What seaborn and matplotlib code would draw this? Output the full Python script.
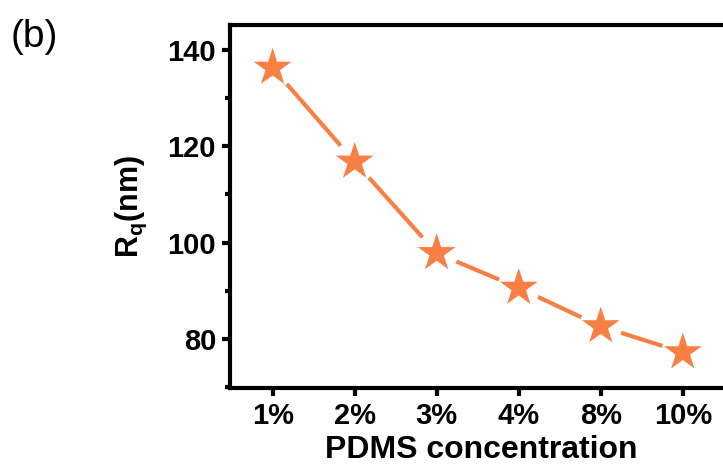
import matplotlib
matplotlib.use("Agg")
import matplotlib.pyplot as plt
import seaborn as sns
import pandas as pd
from matplotlib.ticker import MultipleLocator

categories = ["1%", "2%", "3%", "4%", "8%", "10%"]
rq_values = [136.3, 116.8, 97.8, 90.6, 82.6, 77.2]

df = pd.DataFrame({"conc": categories, "rq": rq_values})

sns.set_style("ticks")
plt.rcParams["font.family"] = ["Liberation Sans", "DejaVu Sans"]
plt.rcParams["mathtext.fontset"] = "custom"
plt.rcParams["mathtext.rm"] = "Liberation Sans"
plt.rcParams["mathtext.bf"] = "Liberation Sans:bold"
plt.rcParams["mathtext.it"] = "Liberation Sans:italic"
plt.rcParams["text.color"] = "black"
plt.rcParams["axes.labelcolor"] = "black"
plt.rcParams["xtick.color"] = "black"
plt.rcParams["ytick.color"] = "black"

color = "#F97F42"
fig = plt.figure(figsize=(7.23, 4.70), dpi=100)
ax = fig.add_axes([230 / 723, 82 / 470, 502 / 723, 363 / 470])

sns.lineplot(data=df, x="conc", y="rq", ax=ax, sort=False, color=color,
             linewidth=3, zorder=1)
sns.scatterplot(data=df, x="conc", y="rq", ax=ax, marker="o", s=950,
                color="white", edgecolor="none", linewidth=0, zorder=2)
sns.scatterplot(data=df, x="conc", y="rq", ax=ax, marker="*", s=820,
                color=color, edgecolor="none", linewidth=0, zorder=3)

ax.set_xlim(-0.52, 5.6)
ax.set_ylim(69.8, 145.2)
ax.yaxis.set_major_locator(MultipleLocator(20))
ax.yaxis.set_minor_locator(MultipleLocator(10))

for s in ["left", "bottom", "top", "right"]:
    ax.spines[s].set_linewidth(3)
    ax.spines[s].set_color("black")

ax.tick_params(axis="both", which="major", direction="out", length=6, width=3,
               labelsize=21, pad=4, colors="black")
ax.tick_params(axis="y", which="minor", direction="out", length=3.5, width=3)
ax.tick_params(axis="x", which="minor", bottom=False)
for lab in ax.get_xticklabels() + ax.get_yticklabels():
    lab.set_fontweight("bold")

ax.set_xlabel("PDMS concentration", fontsize=23, fontweight="bold", labelpad=4)
ax.set_ylabel(r"R$_{\mathbf{q}}$(nm)", fontsize=22, fontweight="bold", labelpad=13)

fig.text(0.015, 0.96, "(b)", fontsize=28, va="top", ha="left")

fig.savefig("out.png", dpi=100)
